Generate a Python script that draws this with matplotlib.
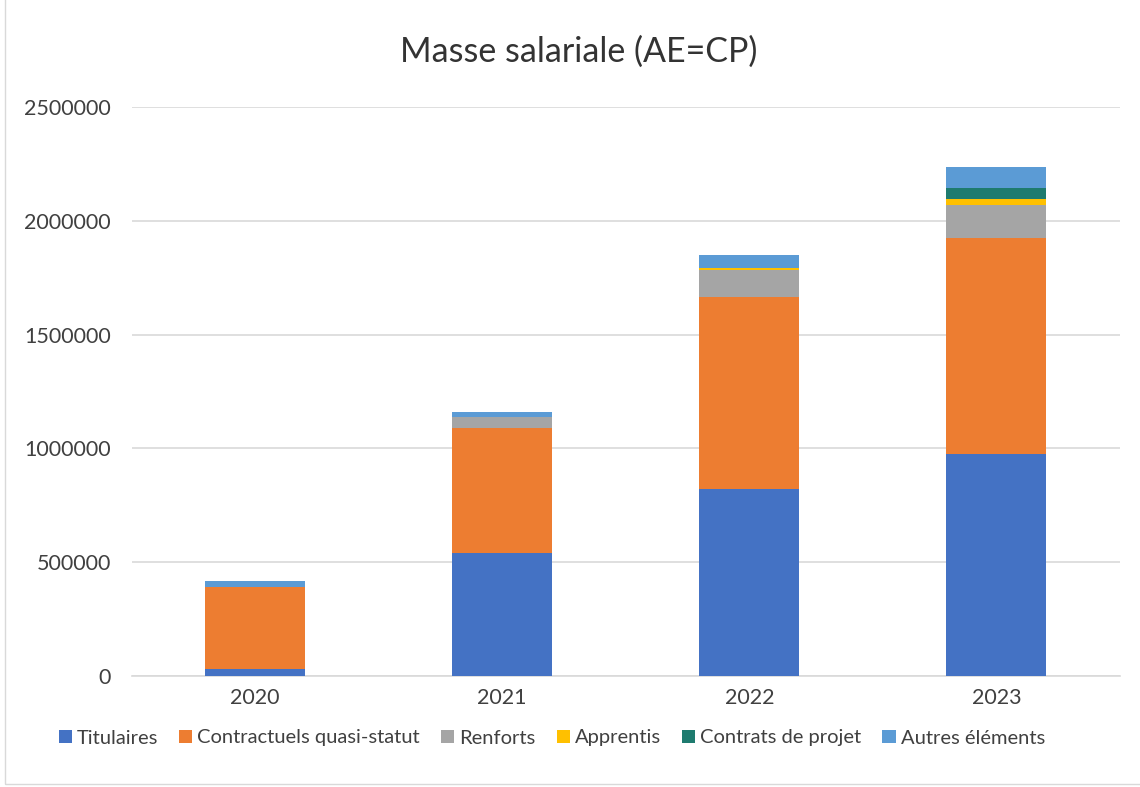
import numpy as np
import matplotlib.pyplot as plt
from matplotlib.patches import Rectangle

plt.rcParams['font.family'] = ['Lato', 'DejaVu Sans']

years = ['2020', '2021', '2022', '2023']
series = ['Titulaires', 'Contractuels quasi-statut', 'Renforts', 'Apprentis',
          'Contrats de projet', 'Autres éléments']
titulaires = [29000, 539000, 820000, 975000]
contractuels = [363000, 551000, 844000, 951000]
renforts = [0, 50000, 120000, 142000]
apprentis = [0, 0, 7000, 29000]
contrats_projet = [0, 0, 0, 46000]
autres = [25000, 19000, 58000, 92000]
colors = ['#4472C4', '#ED7D31', '#A5A5A5', '#FFC000', '#1E7B6F', '#5B9BD5']

values = [titulaires, contractuels, renforts, apprentis, contrats_projet, autres]

fig = plt.figure(figsize=(11.4, 7.87), dpi=100)
ax = fig.add_axes([131.5 / 1140, 1 - 676 / 787, (1120 - 131.5) / 1140, (676 - 107) / 787])

x = np.arange(len(years))
bottom = np.zeros(len(years))
for name, vals, c in zip(series, values, colors):
    ax.bar(x, vals, width=0.405, bottom=bottom, color=c, label=name, zorder=3)
    bottom += np.array(vals)

ax.set_xlim(-0.5, 3.5)
ax.set_ylim(0, 2500000)
ax.set_yticks(np.arange(0, 2500001, 500000))
ax.set_yticklabels([str(v) for v in range(0, 2500001, 500000)])
ax.set_xticks(x)
ax.set_xticklabels(years)
ax.grid(axis='y', color='#D9D9D9', linewidth=1.2, zorder=0)
for s in ['top', 'right', 'left']:
    ax.spines[s].set_visible(False)
ax.spines['bottom'].set_color('#D9D9D9')
ax.spines['bottom'].set_linewidth(1.2)
ax.tick_params(axis='both', length=0, labelsize=15.5, colors='#404040')
ax.tick_params(axis='y', pad=15)
ax.tick_params(axis='x', pad=9)

fig.text(0.508, 1 - 52 / 787, 'Masse salariale (AE=CP)', ha='center', va='center',
         fontsize=24.5, color='#333333')

fig.legend(loc='center', bbox_to_anchor=(0.484, 1 - 738 / 787), ncol=6, frameon=False,
           fontsize=14.5, handlelength=0.65, handleheight=0.65, handletextpad=0.25,
           columnspacing=1.05, labelcolor='#404040')

fig.patches.append(Rectangle((5 / 1140, 1 - 784 / 787), 1, 1, transform=fig.transFigure,
                             fill=False, edgecolor='#D9D9D9', linewidth=1))

fig.savefig('out.png', dpi=100)
